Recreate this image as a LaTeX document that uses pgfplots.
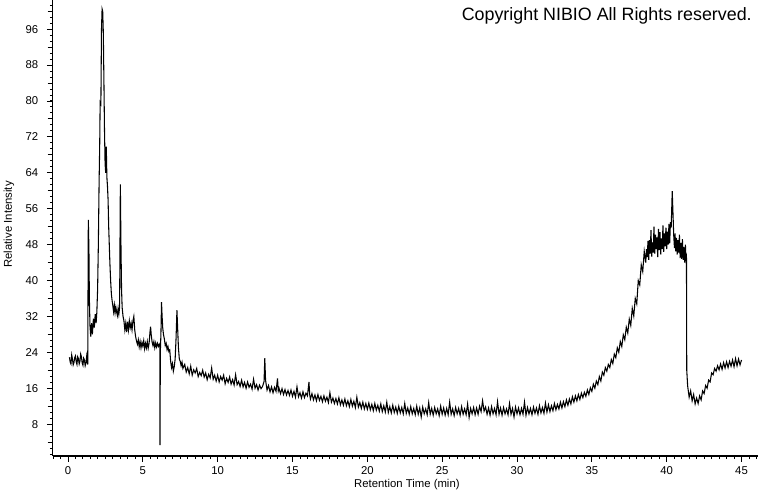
\documentclass[border=0pt]{standalone}
\usepackage{fontspec}
\setmainfont{Liberation Sans}
\usepackage{pgfplots}
\pgfplotsset{compat=1.18}
\begin{document}
\begin{tikzpicture}
\useasboundingbox (-39.75pt,-27pt) rectangle (530.25pt,342pt);
\begin{axis}[
  scale only axis, width=528.75pt, height=342pt,
  at={(0,0)}, anchor=south west,
  xmin=-1, xmax=46.1, ymin=0.9, ymax=102.5,
  axis lines*=left,
  axis line style={line width=0.75pt},
  tick align=outside,
  every tick/.style={black, line width=0.7pt},
  major tick length=4.5pt, minor tick length=2.3pt,
  xtick={0,5,...,45},
  minor xtick={-1,-0.5,...,46},
  ytick={8,16,...,96},
  extra y ticks={4,12,...,100}, extra y tick labels={},
  extra y tick style={major tick length=4pt},
  minor ytick={1.3333,2.6667,...,102},
  /pgf/number format/assume math mode=true,
  ticklabel style={font=\fontsize{8.5}{10}\selectfont},
  yticklabel style={xshift=-3pt},
  xlabel={Retention Time (min)},
  ylabel={Relative Intensity},
  every axis x label/.style={at={(axis description cs:0.502,-0.0636)}, anchor=center, font=\fontsize{8.5}{10}\selectfont},
  every axis y label/.style={at={(axis description cs:-0.0624,0.508)}, anchor=center, rotate=90, font=\fontsize{8.5}{10}\selectfont},
  clip=false,
]
\addplot[black, line width=0.8pt, line join=miter] coordinates {
(0.1,22.9)(0.15,21.8)(0.2,21.4)(0.25,23.4)(0.3,22.5)(0.35,21.2)(0.4,21.7)(0.45,22.8)(0.5,23.2)(0.55,21.9)(0.6,21.3)(0.65,23.0)(0.7,22.6)(0.75,21.4)(0.8,22.0)(0.85,23.6)(0.9,23.0)(0.95,21.6)(1.0,21.1)(1.05,22.7)(1.1,22.3)(1.15,21.0)(1.2,21.6)(1.25,23.1)(1.3,21.7)(1.32,21.3)
(1.36,53.5)(1.4,47)(1.43,36)(1.47,30)(1.52,27.5)(1.58,30.5)(1.63,28)(1.7,31.5)(1.76,29.5)(1.82,32.5)(1.88,30.5)(1.93,33)(1.98,38)(2.03,48)(2.08,62)(2.12,70)(2.15,79.7)(2.2,79.3)(2.24,96)(2.28,100.5)(2.32,100)(2.36,95.5)(2.4,85)(2.44,73.6)(2.48,66)(2.52,64)(2.56,69.8)(2.6,63)(2.64,61)(2.68,58)(2.72,52)(2.76,48)(2.8,44)(2.85,40)(2.9,37)(2.95,35.5)(3.0,34.3)(3.05,33)(3.1,34.5)(3.15,32.8)(3.2,34)(3.25,33)(3.3,32.2)(3.35,33.8)(3.4,32.5)(3.45,34)
(3.5,61.4)(3.54,48)(3.58,38)(3.62,34)(3.68,32)(3.74,31)(3.8,29)(3.86,30.5)(3.92,28.5)(3.98,30.8)(4.04,29)(4.1,31)(4.16,29.5)(4.22,30.5)(4.28,29)(4.34,31)(4.4,32)(4.46,29)(4.52,27.5)(4.58,26.5)(4.64,25.8)(4.7,26.8)(4.76,25.2)(4.82,26.4)(4.88,25)(4.94,26.2)(5.0,25.4)(5.06,26.6)(5.12,24.8)(5.18,26)(5.24,25)(5.3,26.4)(5.36,24.9)(5.42,26)(5.48,28.5)(5.52,29.7)(5.56,28)(5.62,26.3)(5.68,25.5)(5.74,26.4)(5.8,25)(5.86,26.1)(5.92,25.2)(5.98,26)(6.04,25.3)(6.1,25.8)(6.14,25.2)(6.15,3.3)(6.17,24)(6.21,28)(6.25,35.2)(6.29,32)(6.33,29.5)(6.38,28)(6.44,27)(6.5,25.5)(6.56,26)(6.62,24.6)(6.68,25.3)(6.74,24.2)(6.8,24.5)(6.86,22)(6.92,20.6)(6.98,21.5)(7.04,19.8)(7.1,20.8)(7.16,22.5)(7.22,27)(7.28,33.4)(7.32,30)(7.38,25)(7.44,22.5)(7.5,22)(7.56,21)(7.62,21.8)(7.68,20.4)
(7.8,21.3)(7.9,19.6)(8.0,20.6)(8.1,19.2)(8.2,20.9)(8.3,18.9)(8.4,20.1)(8.5,19.4)(8.6,20.4)(8.7,18.6)(8.8,19.5)(8.9,18.8)(9.0,20.0)(9.1,18.5)(9.2,19.4)(9.3,17.9)(9.4,19.1)(9.5,18.3)(9.6,20.5)(9.7,18.0)(9.8,18.9)(9.9,17.6)
(10.0,18.9)(10.1,17.4)(10.2,18.6)(10.3,17.8)(10.4,18.9)(10.5,17.0)(10.6,18.2)(10.7,17.3)(10.8,18.5)(10.9,16.9)(11.0,17.9)(11.1,16.7)(11.2,19.0)(11.3,16.8)(11.4,17.5)(11.5,16.4)(11.6,17.8)(11.7,16.3)(11.8,17.3)(11.9,16.0)
(12.0,17.4)(12.1,16.2)(12.2,16.9)(12.3,15.8)(12.4,18.0)(12.5,16.0)(12.6,16.8)(12.7,15.6)(12.8,16.7)(12.9,15.9)(13.0,16.4)(13.1,17.5)(13.15,22.7)(13.2,17.8)(13.3,15.6)(13.4,16.6)(13.5,15.2)(13.6,16.3)(13.7,15.0)(13.8,16.2)(13.9,15.3)
(14.0,18.2)(14.05,15.4)(14.1,16.0)(14.2,14.8)(14.3,15.9)(14.4,14.6)(14.5,15.7)(14.6,14.5)(14.7,15.5)(14.8,14.4)(14.9,15.6)(15.0,14.2)(15.1,15.3)(15.2,14.0)(15.3,16.3)(15.4,14.1)(15.5,15.0)(15.6,13.8)(15.7,15.2)(15.8,13.9)(15.9,14.9)
(16.0,14.3)(16.1,17.4)(16.15,14.6)(16.2,13.6)(16.3,14.8)(16.4,13.4)(16.5,14.5)(16.6,13.2)(16.7,14.6)(16.8,13.3)(16.9,14.2)(17.0,13.0)(17.1,14.3)(17.2,13.1)(17.3,14.0)(17.4,12.8)(17.5,15.0)(17.6,12.9)(17.7,13.8)(17.8,12.6)(17.9,13.7)
(18.0,12.5)(18.1,13.9)(18.2,12.3)(18.3,13.4)(18.4,12.2)(18.5,13.6)(18.6,12.1)(18.7,13.2)(18.8,11.9)(18.9,13.5)(19.0,12.0)(19.1,13.1)(19.2,11.7)(19.3,14.0)(19.4,11.8)(19.5,12.8)(19.6,11.5)(19.7,12.9)(19.8,11.4)(19.9,12.6)
(20.0,11.3)(20.1,12.7)(20.2,11.2)(20.3,12.4)(20.4,11.0)(20.5,12.6)(20.6,11.1)(20.7,12.2)(20.8,10.9)(20.9,12.5)(21.0,10.8)(21.1,12.1)(21.2,10.7)(21.3,12.9)(21.4,10.6)(21.5,11.9)(21.6,10.5)(21.7,12.2)(21.8,10.6)(21.9,11.8)
(22.0,10.4)(22.1,12.0)(22.2,10.5)(22.3,11.7)(22.4,10.3)(22.5,12.6)(22.6,10.4)(22.7,11.6)(22.8,10.2)(22.9,11.9)(23.0,10.3)(23.1,11.5)(23.2,10.1)(23.3,12.0)(23.4,10.2)(23.5,11.6)(23.6,9.6)(23.7,11.8)(23.8,10.3)(23.9,11.4)
(24.0,10.1)(24.1,12.8)(24.2,10.2)(24.3,11.5)(24.4,10.0)(24.5,11.7)(24.6,10.3)(24.7,11.4)(24.8,9.9)(24.9,12.0)(25.0,10.2)(25.1,11.6)(25.2,10.0)(25.3,11.5)(25.4,10.1)(25.5,12.9)(25.6,10.2)(25.7,11.4)(25.8,9.9)(25.9,11.7)
(26.0,10.3)(26.1,11.5)(26.2,10.0)(26.3,11.9)(26.4,10.2)(26.5,11.4)(26.6,10.1)(26.7,12.5)(26.8,9.5)(26.9,11.5)(27.0,10.3)(27.1,11.7)(27.2,10.1)(27.3,11.6)(27.4,10.2)(27.5,12.0)(27.6,10.8)(27.7,13.2)(27.8,10.9)(27.9,11.8)
(28.0,10.2)(28.1,11.6)(28.2,10.0)(28.3,11.9)(28.4,10.3)(28.5,11.5)(28.6,10.1)(28.7,13.0)(28.8,10.2)(28.9,11.6)(29.0,10.0)(29.1,11.7)(29.2,10.3)(29.3,11.4)(29.4,10.1)(29.5,12.6)(29.6,10.2)(29.7,11.5)(29.8,9.6)(29.9,11.8)
(30.0,10.3)(30.1,11.6)(30.2,10.1)(30.3,11.5)(30.4,10.2)(30.5,12.9)(30.6,10.0)(30.7,11.7)(30.8,10.3)(30.9,11.5)(31.0,10.1)(31.1,11.8)(31.2,10.4)(31.3,11.6)(31.4,10.2)(31.5,12.1)(31.6,10.5)(31.7,11.7)(31.8,10.4)(31.9,12.7)
(32.0,10.7)(32.1,12.3)(32.2,10.8)(32.3,12.1)(32.4,11.0)(32.5,12.6)(32.6,11.2)(32.7,12.4)(32.8,11.4)(32.9,12.9)(33.0,11.6)(33.1,13.0)(33.2,11.9)(33.3,13.4)(33.4,12.2)(33.5,13.6)(33.6,12.5)(33.7,14.1)(33.8,12.9)(33.9,14.3)
(34.0,13.2)(34.1,14.6)(34.2,13.5)(34.3,14.9)(34.4,13.9)(34.5,15.1)(34.6,14.2)(34.7,15.6)(34.8,14.6)(34.9,16.1)(35.0,15.3)(35.1,16.9)(35.2,16.0)(35.3,17.6)(35.4,16.8)(35.5,18.6)(35.6,17.6)(35.7,19.6)(35.8,18.9)(35.9,20.6)
(36.0,19.8)(36.1,21.3)(36.2,20.6)(36.3,22.4)(36.4,21.5)(36.5,23.6)(36.6,22.8)(36.7,25.0)(36.8,24.0)(36.9,26.4)(37.0,25.3)(37.1,27.9)(37.2,26.8)(37.3,29.6)(37.4,28.3)(37.5,31.4)(37.6,30.0)(37.7,33.8)(37.8,32.1)(37.9,36.0)
(38.0,34.8)(38.1,40.0)(38.2,39.0)(38.3,43.5)(38.4,42.0)(38.5,46.5)(38.6,44.0)(38.65,47.0)(38.7,45.2)(38.75,48.8)(38.8,44.6)(38.85,49.0)(38.9,46.0)(38.95,51.2)(39.0,45.3)(39.05,48.5)(39.1,46.2)(39.15,52.0)(39.2,46.0)(39.25,50.2)(39.3,47.0)(39.35,49.6)(39.4,45.2)(39.45,51.5)(39.5,46.8)(39.55,50.8)(39.6,45.8)(39.65,49.4)(39.7,47.0)(39.75,52.3)(39.8,46.4)(39.85,50.5)(39.9,47.6)(39.95,51.8)
(40.0,47.0)(40.05,50.9)(40.1,48.0)(40.15,52.6)(40.2,48.3)(40.25,53.0)(40.3,51.8)(40.37,59.9)(40.42,55.0)(40.47,50.0)(40.52,47.2)(40.56,50.5)(40.6,46.5)(40.65,49.5)(40.7,45.8)(40.75,49.0)(40.8,46.2)(40.85,50.2)(40.9,45.0)(40.95,48.4)(41.0,44.8)(41.05,49.2)(41.1,44.6)(41.15,47.5)(41.2,44.0)(41.25,48.0)(41.3,43.8)(41.32,46.0)
(41.34,20.0)(41.4,16.5)(41.5,14.0)(41.6,15.4)(41.7,13.2)(41.8,14.6)(41.9,12.5)(42.0,13.8)(42.1,12.6)(42.2,14.3)(42.3,13.4)(42.4,15.4)(42.5,14.8)(42.6,16.6)(42.7,16.0)(42.8,17.8)(42.9,17.4)
(43.0,19.4)(43.1,19.0)(43.2,20.4)(43.3,19.8)(43.4,21.0)(43.5,20.1)(43.6,21.4)(43.7,20.2)(43.8,21.7)(43.9,20.5)(44.0,21.9)(44.1,20.6)(44.2,22.0)(44.3,20.9)(44.4,22.3)(44.5,20.8)(44.6,22.6)(44.7,21.0)(44.8,22.5)(44.9,21.2)(45.0,22.3)
};
\end{axis}
\node[anchor=base east, inner sep=0pt, font=\fontsize{13.4}{16}\selectfont] at (524.25pt,326.25pt) {Copyright NIBIO All Rights reserved.};
\end{tikzpicture}
\end{document}
